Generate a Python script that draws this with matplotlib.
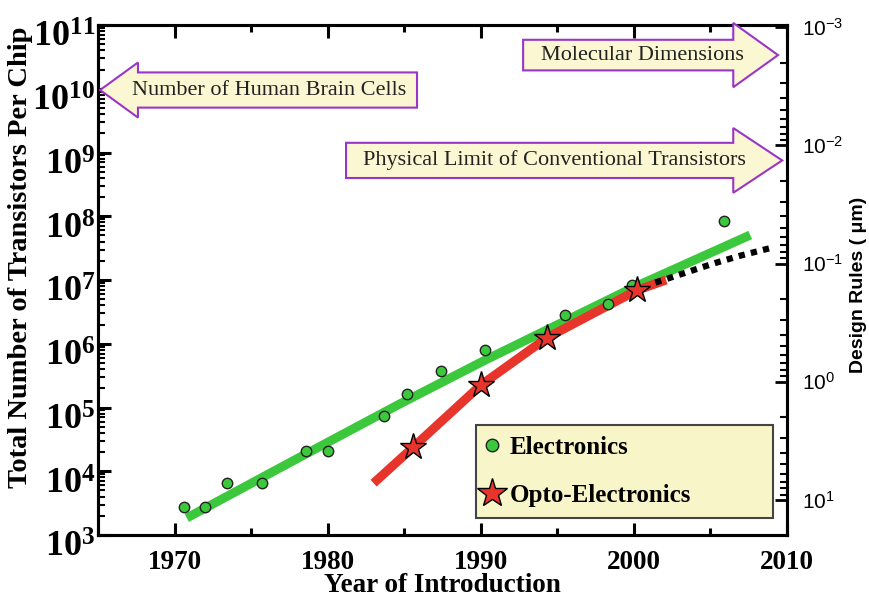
import math

import matplotlib
matplotlib.use("Agg")
import matplotlib.pyplot as plt
import matplotlib.transforms as mtransforms
from matplotlib.patches import Polygon
from matplotlib.lines import Line2D
from matplotlib.ticker import FixedLocator, LogLocator, MultipleLocator, NullFormatter

plt.rcParams["font.family"] = "Liberation Serif"
plt.rcParams["mathtext.fontset"] = "custom"
plt.rcParams["mathtext.rm"] = "Liberation Serif"
plt.rcParams["mathtext.bf"] = "Liberation Serif:bold"
plt.rcParams["mathtext.sf"] = "Liberation Sans"

# Electronics: transistors per chip (points)
elec_year = [1970.6, 1972.0, 1973.4, 1975.7, 1978.6, 1980.0, 1983.7, 1985.2,
             1987.4, 1990.3, 1995.5, 1998.3, 1999.9, 2005.9]
elec_count = [2750, 2750, 6600, 6600, 21000, 21000, 74000, 160000,
              370000, 790000, 2.8e6, 4.2e6, 8.3e6, 8.5e7]
# Electronics trend line
elec_fit_year = [1970.8, 1978.2, 1984.7, 1990.3, 1995.5, 1999.9, 2007.6]
elec_fit_count = [1850, 16700, 113500, 556000, 2.27e6, 7.5e6, 5.08e7]

# Opto-electronics (stars) and trend
opto_year = [1985.6, 1990.0, 1994.3, 2000.2]
opto_count = [24000, 224000, 1.23e6, 6.9e6]
opto_fit_year = [1983.0, 1985.6, 1990.0, 1994.3, 2000.2, 2002.1]
opto_fit_count = [6500, 24000, 224000, 1.23e6, 6.9e6, 1.0e7]

# design-rule projection (right axis, um)
rule_year = [2001.4, 2005.2, 2007.0, 2009.1]
rule_um = [0.145, 0.100, 0.0855, 0.073]

left_ticks = [1e3, 1e4, 1e5, 1e6, 1e7, 1e8, 1e9, 1e10, 1e11]
right_ticks = [1e-3, 1e-2, 1e-1, 1e0, 1e1]
year_ticks = [1970, 1980, 1990, 2000, 2010]

GREEN = "#3cc83c"
RED = "#e8352b"
ARROW_FILL = "#faf7d2"
ARROW_EDGE = "#9b35c8"

fig = plt.figure(figsize=(8.7, 6), dpi=100)
ax = fig.add_axes([98 / 870, 65 / 600, 689 / 870, 510 / 600])
ax2 = ax.twinx()

ax.set_xlim(1965, 2010)
ax.set_yscale("log")
ax.set_ylim(1e3, 1e11)
ax2.set_yscale("log")
ax2.set_ylim(19.8, 0.00096)

ax.plot(elec_fit_year, elec_fit_count, color=GREEN, lw=6.5,
        solid_capstyle="butt", solid_joinstyle="round", zorder=2)
ax.plot(opto_fit_year, opto_fit_count, color=RED, lw=6.5,
        solid_capstyle="butt", solid_joinstyle="round", zorder=2)
ax2.plot(rule_year, rule_um, color="black", lw=4.5, ls=(0, (1.0, 1.0)),
         zorder=2)
ax.plot(elec_year, elec_count, "o", color=GREEN, mec="#222222", mew=1.0,
        ms=7.5, zorder=3)
ax.plot(opto_year, opto_count, "*", color=RED, mec="black", mew=1.0,
        ms=20, zorder=4)

# axis styling
for a in (ax, ax2):
    for s in a.spines.values():
        s.set_linewidth(2.2)

ax.xaxis.set_major_locator(FixedLocator(year_ticks))
ax.xaxis.set_minor_locator(MultipleLocator(5))
ax.set_xticklabels([str(y) for y in year_ticks], fontsize=19.5, fontweight="bold")
ax.tick_params(axis="x", which="major", direction="in", length=9, width=2.2,
               top=True, pad=11)
ax.tick_params(axis="x", which="minor", direction="in", length=5, width=2.2,
               top=True)

ax.yaxis.set_major_locator(FixedLocator(left_ticks))
ax.yaxis.set_minor_locator(LogLocator(base=10, subs=range(2, 10), numticks=20))
ax.yaxis.set_minor_formatter(NullFormatter())
ax.set_yticklabels([r"$\mathbf{10^{%d}}$" % round(math.log10(t))
                    for t in left_ticks], fontsize=26)
ax.tick_params(axis="y", which="major", direction="in", length=9, width=2.2,
               right=False, pad=2)
ax.tick_params(axis="y", which="minor", direction="in", length=5, width=1.5,
               right=False)
# the printed labels sit a little below their ticks
shift = mtransforms.ScaledTranslation(0, -7 / 72, fig.dpi_scale_trans)
for lab in ax.get_yticklabels():
    lab.set_transform(lab.get_transform() + shift)

ax2.yaxis.set_major_locator(FixedLocator(right_ticks))
ax2.yaxis.set_minor_locator(LogLocator(base=10, subs=range(2, 10), numticks=20))
ax2.yaxis.set_minor_formatter(NullFormatter())
ax2.set_yticklabels([r"$\mathsf{10^{%d}}$" % e for e in (-3, -2, -1, 0, 1)],
                    fontsize=15)
ax2.tick_params(axis="y", which="major", direction="in", length=9, width=2.0,
                pad=11)
ax2.tick_params(axis="y", which="minor", direction="in", length=5, width=1.5)

ax.set_xlabel("Year of Introduction", fontsize=19.5, fontweight="bold")
ax.xaxis.set_label_coords(0.5, -0.075)
ax.set_ylabel("Total Number of Transistors Per Chip", fontsize=20.5,
              fontweight="bold")
ax.yaxis.set_label_coords(-0.094, 0.545)
ax2.set_ylabel("Design Rules ( \u03bcm)", fontsize=14, fontweight="bold",
               family="Liberation Sans")
ax2.yaxis.set_label_coords(1.092, 0.49)


def arrow(axis, text, tip_x, tip_y, base_x, end_x, body_h, head_h, text_x):
    """Block arrow in axes-fraction coordinates; tip points toward tip_x."""
    bt, bb = tip_y + body_h / 2, tip_y - body_h / 2
    ht, hb = tip_y + head_h / 2, tip_y - head_h / 2
    verts = [(tip_x, tip_y), (base_x, ht), (base_x, bt), (end_x, bt),
             (end_x, bb), (base_x, bb), (base_x, hb)]
    axis.add_patch(Polygon(verts, closed=True, transform=axis.transAxes,
                           facecolor=ARROW_FILL, edgecolor=ARROW_EDGE, lw=1.5,
                           clip_on=False, zorder=5))
    axis.text(text_x, tip_y, text, transform=axis.transAxes, fontsize=16,
              ha="center", va="center", color="#222222", zorder=6)


arrow(ax2, "Number of Human Brain Cells", 0.003, 0.8725, 0.058, 0.463,
      0.069, 0.108, 0.248)
arrow(ax2, "Molecular Dimensions", 0.987, 0.941, 0.922, 0.617,
      0.060, 0.126, 0.79)
arrow(ax2, "Physical Limit of Conventional Transistors", 0.993, 0.7345,
      0.922, 0.36, 0.069, 0.127, 0.662)

handles = [Line2D([], [], ls="none", marker="o", color=GREEN, mec="#222222",
                  mew=1.0, ms=9),
           Line2D([], [], ls="none", marker="*", color=RED, mec="black",
                  mew=1.0, ms=22)]
leg = ax2.legend(handles, ["Electronics", "Opto-Electronics"],
                 loc="lower left", bbox_to_anchor=(0.549, 0.033, 0.431, 0.188),
                 mode="expand", borderaxespad=0, frameon=True, fancybox=False,
                 facecolor="#f8f5c8", edgecolor="#444444", framealpha=1,
                 prop={"family": "Liberation Serif", "weight": "bold",
                       "size": 18},
                 handlelength=0.35, handletextpad=0.55, labelspacing=1.0,
                 borderpad=0.45)
leg.get_frame().set_linewidth(1.5)
leg.set_zorder(7)

fig.savefig("out.png", dpi=100)
